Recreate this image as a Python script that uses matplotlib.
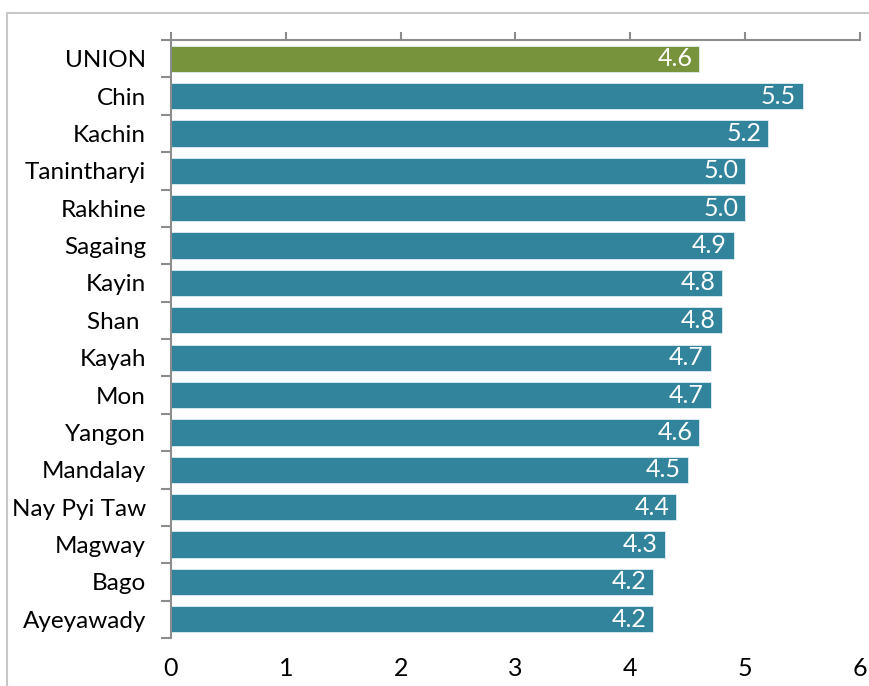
import numpy as np
import matplotlib
matplotlib.use("Agg")
from matplotlib import pyplot as plt
from matplotlib.patches import Rectangle

plt.rcParams['font.family'] = ['Lato', 'DejaVu Sans']

regions = ["UNION", "Chin", "Kachin", "Tanintharyi", "Rakhine", "Sagaing", "Kayin", "Shan ",
           "Kayah", "Mon", "Yangon", "Mandalay", "Nay Pyi Taw", "Magway", "Bago", "Ayeyawady"]
values = [4.6, 5.5, 5.2, 5.0, 5.0, 4.9, 4.8, 4.8, 4.7, 4.7, 4.6, 4.5, 4.4, 4.3, 4.2, 4.2]
xticks = [0, 1, 2, 3, 4, 5, 6]

green = "#77933C"
teal = "#31849B"
grey = "#8c8c8c"

fig = plt.figure(figsize=(8.7, 6.86), dpi=100)

# outer chart frame (cut off at right and bottom)
fig.patches.append(Rectangle((7 / 870, -0.1), 1.2, 1 - 13 / 686 + 0.1, transform=fig.transFigure,
                             fill=False, edgecolor="#c8c8c8", linewidth=1.5))

ax = fig.add_axes([171 / 870, 1 - 638 / 686, (860 - 171) / 870, (638 - 40) / 686])

y = np.arange(len(regions))
colors = [green] + [teal] * (len(regions) - 1)
ax.barh(y, values, height=0.7, color=colors, edgecolor="#dfeef2", linewidth=0.6)

for yi, v in zip(y, values):
    ax.annotate("%.1f" % v, (v, yi), xytext=(-5, 0), textcoords="offset points",
                ha="right", va="center", color="white", fontsize=18)

ax.set_xlim(0, 6)
ax.set_ylim(len(regions) - 0.5, -0.5)
ax.set_xticks(xticks)
ax.set_yticks(y)
ax.set_yticklabels(regions, fontsize=17.5)
ax.set_yticks(np.arange(-0.5, len(regions)), minor=True)

ax.tick_params(axis="x", top=True, bottom=False, labeltop=False, labelbottom=True,
               direction="out", length=6, width=1.5, color=grey, pad=8, labelsize=18)
ax.tick_params(axis="y", which="major", length=0, pad=18)
ax.tick_params(axis="y", which="minor", length=7, width=1.5, color=grey, direction="out")

for s in ["right", "bottom"]:
    ax.spines[s].set_visible(False)
for s in ["top", "left"]:
    ax.spines[s].set_color(grey)
    ax.spines[s].set_linewidth(1.5)

plt.savefig("out.png", dpi=100)
